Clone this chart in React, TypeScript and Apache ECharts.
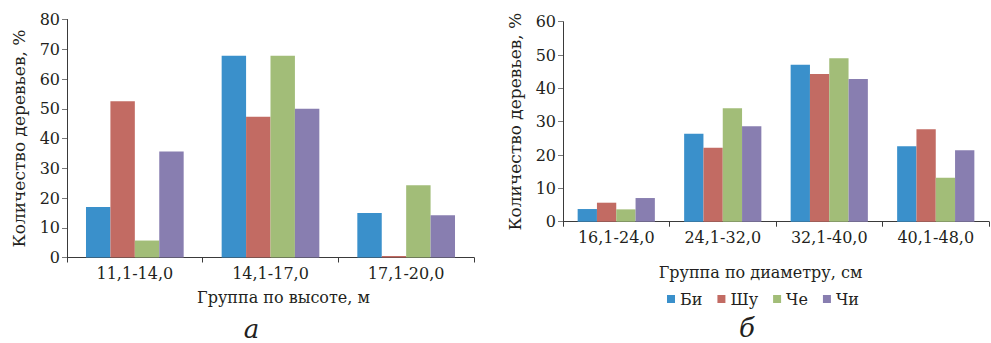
import React, { useEffect, useRef } from 'react';
import * as echarts from 'echarts';

const heightGroups = ['11,1-14,0', '14,1-17,0', '17,1-20,0'];
const diameterGroups = ['16,1-24,0', '24,1-32,0', '32,1-40,0', '40,1-48,0'];
const seriesNames = ['Би', 'Шу', 'Че', 'Чи'];

const heightBi = [17.0, 67.8, 15.0];
const heightShu = [52.5, 47.3, 0.5];
const heightChe = [5.7, 67.8, 24.3];
const heightChi = [35.6, 50.0, 14.2];

const diamBi = [3.8, 26.4, 47.1, 22.6];
const diamShu = [5.7, 22.2, 44.3, 27.7];
const diamChe = [3.7, 34.0, 49.0, 13.2];
const diamChi = [7.1, 28.6, 42.8, 21.4];

const leftYMax = 80;
const rightYMax = 60;
const yInterval = 10;

const colors = ['#3A90CB', '#C26B63', '#A2BD78', '#887EB0'];
const FONT = 'DejaVu Serif';
const TXT = '#231F20';

export default function App() {
  const ref = useRef<HTMLDivElement>(null);
  useEffect(() => {
    if (!ref.current) return;
    const chart = echarts.init(ref.current, null, { renderer: 'svg' });
    const heightData = [heightBi, heightShu, heightChe, heightChi];
    const diamData = [diamBi, diamShu, diamChe, diamChi];
    const xAxisCommon = {
      type: 'category' as const,
      axisLine: { lineStyle: { color: '#3a3a3a', width: 1 } },
      axisTick: { show: true, length: 5, lineStyle: { color: '#3a3a3a' } },
      axisLabel: { color: TXT, fontFamily: FONT, fontSize: 16, margin: 8 },
    };
    const yAxisCommon = {
      type: 'value' as const,
      min: 0,
      interval: yInterval,
      axisLine: { show: true, lineStyle: { color: '#3a3a3a', width: 1 } },
      axisTick: { show: true, length: 5, lineStyle: { color: '#7a7a7a' } },
      axisLabel: { color: TXT, fontFamily: FONT, fontSize: 16, margin: 7 },
      splitLine: { show: false },
      name: 'Количество деревьев, %',
      nameLocation: 'middle' as const,
      nameRotate: 90,
      nameGap: 40,
      nameTextStyle: { color: TXT, fontFamily: FONT, fontSize: 17 },
    };
    const option: any = {
      animation: false,
      textStyle: { fontFamily: FONT },
      grid: [
        { left: 67, right: 517, top: 19.5, bottom: 85.5 },
        { left: 563, right: 2, top: 21.7, bottom: 121.3 },
      ],
      xAxis: [
        { ...xAxisCommon, gridIndex: 0, data: heightGroups },
        { ...xAxisCommon, gridIndex: 1, data: diameterGroups },
      ],
      yAxis: [
        { ...yAxisCommon, gridIndex: 0, max: leftYMax },
        { ...yAxisCommon, gridIndex: 1, max: rightYMax },
      ],
      legend: {
        data: seriesNames,
        left: 667,
        top: 291,
        padding: 0,
        icon: 'rect',
        itemWidth: 8,
        itemHeight: 8,
        itemGap: 15,
        textStyle: { color: TXT, fontFamily: FONT, fontSize: 16 },
      },
      series: [
        ...seriesNames.map((n, i) => ({
          name: n,
          type: 'bar',
          xAxisIndex: 0,
          yAxisIndex: 0,
          data: heightData[i],
          barGap: '0%',
          barCategoryGap: '28%',
          itemStyle: { color: colors[i] },
        })),
        ...seriesNames.map((n, i) => ({
          name: n,
          type: 'bar',
          xAxisIndex: 1,
          yAxisIndex: 1,
          data: diamData[i],
          barGap: '0%',
          barCategoryGap: '27.5%',
          itemStyle: { color: colors[i] },
        })),
      ],
      graphic: [
        {
          type: 'text',
          x: 283.5,
          y: 297,
          style: { text: 'Группа по высоте, м', fill: TXT, fontFamily: FONT, fontSize: 16, textAlign: 'center', textVerticalAlign: 'middle' },
        },
        {
          type: 'text',
          x: 760.5,
          y: 272,
          style: { text: 'Группа по диаметру, см', fill: TXT, fontFamily: FONT, fontSize: 16, textAlign: 'center', textVerticalAlign: 'middle' },
        },
        {
          type: 'text',
          x: 251.5,
          y: 329,
          style: { text: 'а', fill: TXT, fontFamily: FONT, fontSize: 26, fontStyle: 'italic', textAlign: 'center', textVerticalAlign: 'middle' },
        },
        {
          type: 'text',
          x: 747,
          y: 328,
          style: { text: 'б', fill: TXT, fontFamily: FONT, fontSize: 26, fontStyle: 'italic', textAlign: 'center', textVerticalAlign: 'middle' },
        },
      ],
    };
    chart.setOption(option);
    return () => chart.dispose();
  }, []);
  return (
    <div style={{ position: 'absolute', left: 0, top: 0, width: 991, height: 343, background: '#fff' }}>
      <style>{`#chart-box text { font-family: "DejaVu Serif", serif !important; }`}</style>
      <div id="chart-box" ref={ref} style={{ position: 'absolute', left: 0, top: 0, width: 991, height: 343 }} />
    </div>
  );
}
